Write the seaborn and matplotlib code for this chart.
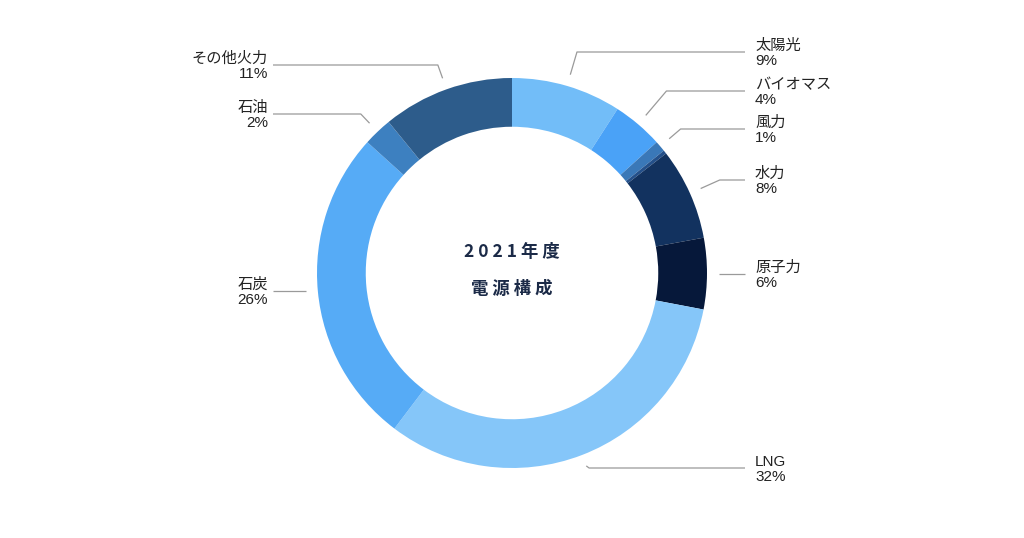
import numpy as np
import matplotlib
matplotlib.use("Agg")
import matplotlib.pyplot as plt
import seaborn as sns

# 2021年度 電源構成 (%), clockwise from the top
sources = ["太陽光", "バイオマス", "風力", "地熱", "水力", "原子力", "LNG", "石炭", "石油", "その他火力"]
shares = [9.1, 4.2, 0.9, 0.3, 7.6, 5.9, 32.3, 26.4, 2.4, 10.9]
show_label = [True, True, True, False, True, True, True, True, True, True]
colors = ["#72bdf8", "#4aa2f7", "#3a78b8", "#24508a", "#12325f",
          "#06183a", "#85c6f9", "#56abf6", "#3d80c0", "#2d5c8b"]

# layout: height (px from top) of each label's leader line
label_y_px = [52, 91, 129, None, 180, 274, 468, 291, 114, 65]

W, H = 1024, 538
cx, cy = 512, H - 273
R = 195

sns.set_theme(style="white")
plt.rcParams["font.family"] = ["Liberation Sans", "Noto Sans CJK JP", "DejaVu Sans"]

fig = plt.figure(figsize=(W / 100, H / 100), dpi=100)
ax = fig.add_axes([0, 0, 1, 1])

wedges, _ = ax.pie(
    shares,
    colors=colors,
    startangle=90,
    counterclock=False,
    radius=R,
    center=(cx, cy),
    wedgeprops=dict(width=R * 0.25, edgecolor="none", linewidth=0),
)
ax.set_xlim(0, W)
ax.set_ylim(0, H)
ax.set_aspect("equal")
ax.axis("off")

line_kw = dict(color="#9a9a9a", lw=0.9, solid_capstyle="butt")
for w, name, v, show, ly in zip(wedges, sources, shares, show_label, label_y_px):
    if not show:
        continue
    mid = np.deg2rad((w.theta1 + w.theta2) / 2)
    dx, dy = np.cos(mid), np.sin(mid)
    sx, sy = cx + 1.06 * R * dx, cy + 1.06 * R * dy
    ty = H - ly
    # elbow: where the radial direction reaches the label height
    if abs(dy) > 0.15:
        r_el = max((ty - cy) / dy, 1.1 * R)
        ex, ey = cx + r_el * dx, ty
    else:
        sy = ty
        ex, ey = sx, ty
    right = dx >= 0
    tx_line = 745 if right else 273
    ax.plot([sx, ex, tx_line], [sy, ey, ty], **line_kw)
    tx = 755 if right else 268
    ha = "left" if right else "right"
    ax.text(tx, ty - 1, name, ha=ha, va="bottom", fontsize=11, color="#222222")
    ax.text(tx, ty - 2, f"{round(v)}%", ha=ha, va="top", fontsize=11, color="#222222")

center_kw = dict(ha="center", va="center", fontsize=12.5, fontweight="bold",
                 color="#1b2a47", family=["Noto Sans CJK JP", "DejaVu Sans"])
ax.text(cx, H - 252, "2 0 2 1 年 度", **center_kw)
ax.text(cx, H - 289, "電 源 構 成", **center_kw)

fig.savefig("out.png", dpi=100, facecolor="white")
